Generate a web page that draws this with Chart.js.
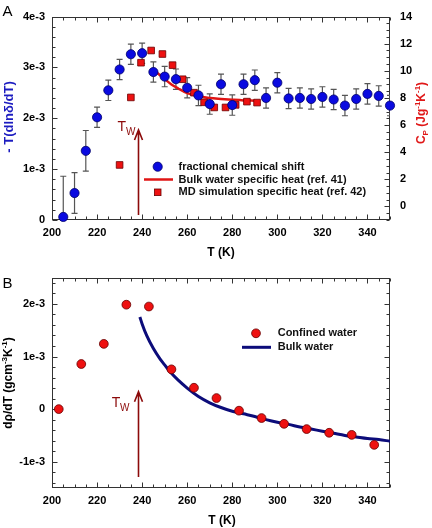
<!DOCTYPE html>
<html><head><meta charset="utf-8">
<script src="https://cdn.jsdelivr.net/npm/chart.js@4.4.1/dist/chart.umd.min.js"></script>
<style>
html,body{margin:0;padding:0;background:#fff;}
#wrap{position:relative;width:432px;height:528px;overflow:hidden;}
canvas{position:absolute;left:0;}
</style></head><body>
<div id="wrap">
<canvas id="cA" width="432" height="264" style="top:0;width:432px;height:264px"></canvas>
<canvas id="cB" width="432" height="264" style="top:264px;width:432px;height:264px"></canvas>
</div>
<script>
// ---------- Panel A data ----------
const shiftT   = [205,210,215,220,225,230,235,240,245,250,255,260,265,270,275,280,285,290,295,300,305,310,315,320,325,330,335,340,345,350];
const shiftVal = [0.06e-3,0.53e-3,1.36e-3,2.02e-3,2.55e-3,2.96e-3,3.26e-3,3.28e-3,2.91e-3,2.82e-3,2.77e-3,2.60e-3,2.45e-3,2.28e-3,2.67e-3,2.26e-3,2.67e-3,2.75e-3,2.40e-3,2.70e-3,2.39e-3,2.40e-3,2.38e-3,2.42e-3,2.37e-3,2.25e-3,2.38e-3,2.48e-3,2.44e-3,2.25e-3];
const shiftErr = [0.8e-3,0.4e-3,0.4e-3,0.2e-3,0.2e-3,0.2e-3,0.2e-3,0.2e-3,0.2e-3,0.2e-3,0.2e-3,0.2e-3,0.2e-3,0.2e-3,0.2e-3,0.2e-3,0.2e-3,0.2e-3,0.2e-3,0.2e-3,0.2e-3,0.2e-3,0.2e-3,0.2e-3,0.2e-3,0.2e-3,0.2e-3,0.2e-3,0.2e-3,0.2e-3];
const bulkCpT  = [245,247,250,253,256,260,265,270,275,280,285,290];
const bulkCp   = [10.1,9.8,9.4,9.0,8.7,8.35,8.12,8.0,7.93,7.87,7.82,7.8];
const mdT      = [230,235,239.5,244,249,253.5,258,263,267.5,272,277,281.5,286.5,291];
const mdCp     = [3.06,8.04,10.6,11.5,11.24,10.42,9.38,8.39,7.68,7.30,7.30,7.49,7.73,7.66];
// ---------- Panel B data ----------
const confT    = [203,213,223,233,243,253,263,273,283,293,303,313,323,333,343];
const confVal  = [0.0,0.857e-3,1.24e-3,1.985e-3,1.95e-3,0.756e-3,0.406e-3,0.21e-3,-0.03e-3,-0.17e-3,-0.28e-3,-0.38e-3,-0.45e-3,-0.49e-3,-0.68e-3];
const bulkRhoT = [239,240,242,245,248,250,253,256,260,265,270,275,280,285,290,295,300,305,310,315,320,325,330,335,340,345,350];
const bulkRho  = [1.75e-3,1.62e-3,1.40e-3,1.15e-3,0.95e-3,0.84e-3,0.68e-3,0.55e-3,0.40e-3,0.24e-3,0.12e-3,0.03e-3,-0.04e-3,-0.09e-3,-0.14e-3,-0.20e-3,-0.25e-3,-0.29e-3,-0.34e-3,-0.38e-3,-0.42e-3,-0.46e-3,-0.50e-3,-0.53e-3,-0.56e-3,-0.58e-3,-0.61e-3];
// ---------- ticks / labels ----------
const xTicks   = [200,220,240,260,280,300,320,340];
const yTicksA  = [0,1e-3,2e-3,3e-3,4e-3];
const cpTicks  = [0,2,4,6,8,10,12,14];
const yTicksB  = [-1e-3,0,1e-3,2e-3];
const legendA  = ['fractional chemical shift','Bulk water specific heat (ref. 41)','MD simulation specific heat (ref. 42)'];
const legendB  = ['Confined water','Bulk water'];
const twT = 238;

const FONT = '"Liberation Sans", Arial, Helvetica, sans-serif';
Chart.defaults.font.family = FONT;

function sci(v){ if (Math.abs(v) < 1e-12) return '0'; return Math.round(v*1000) + 'e-3'; }
function setTicks(arr){ return s => { s.ticks = arr.map(v => ({value:v})); }; }

function eachTick(min, max, minor, major, fn){
  const k0 = Math.ceil(min/minor - 1e-6), k1 = Math.floor(max/minor + 1e-6);
  for (let k = k0; k <= k1; k++){ const v = k*minor; const r = v/major; fn(v, Math.abs(r - Math.round(r)) < 1e-6); }
}

const errorBars = {
  id:'errorBars',
  beforeDatasetsDraw(chart){
    const {ctx, chartArea:a} = chart;
    chart.data.datasets.forEach(ds => {
      if (!ds.errors) return;
      const xs = chart.scales.x, ys = chart.scales[ds.yAxisID || 'y'];
      ctx.save();
      ctx.beginPath(); ctx.rect(a.left, a.top, a.right-a.left, a.bottom-a.top); ctx.clip();
      ctx.strokeStyle = '#555'; ctx.lineWidth = 1.2;
      ds.data.forEach((p,i) => {
        const e = ds.errors[i];
        const x = xs.getPixelForValue(p.x);
        const y1 = ys.getPixelForValue(p.y + e), y2 = ys.getPixelForValue(p.y - e);
        ctx.beginPath();
        ctx.moveTo(x, y1); ctx.lineTo(x, y2);
        ctx.moveTo(x-3, y1); ctx.lineTo(x+3, y1);
        ctx.moveTo(x-3, y2); ctx.lineTo(x+3, y2);
        ctx.stroke();
      });
      ctx.restore();
    });
  }
};

const frameTicks = {
  id:'frameTicks',
  beforeDatasetsDraw(chart, args, o){
    const {ctx, chartArea:a, scales} = chart;
    const L = Math.round(a.left)+0.5, R = Math.round(a.right)-0.5, T = Math.round(a.top)+0.5, B = Math.round(a.bottom)-0.5;
    ctx.save();
    ctx.strokeStyle = '#333'; ctx.lineWidth = 1;
    ctx.strokeRect(L, T, R-L, B-T);
    ctx.beginPath();
    const xs = scales.x;
    eachTick(xs.min, xs.max, o.x.minor, o.x.major, (v, major) => {
      const px = Math.round(xs.getPixelForValue(v)) + 0.5, len = major ? 5 : 3;
      ctx.moveTo(px, B); ctx.lineTo(px, B-len);
      ctx.moveTo(px, T); ctx.lineTo(px, T+len);
    });
    const ls = scales[o.left.id];
    eachTick(ls.min, ls.max, o.left.minor, o.left.major, (v, major) => {
      const py = Math.round(ls.getPixelForValue(v)) + 0.5, len = major ? 5 : 3;
      ctx.moveTo(L, py); ctx.lineTo(L+len, py);
      if (!o.right){ ctx.moveTo(R, py); ctx.lineTo(R-len, py); }
    });
    if (o.right){
      const rs = scales[o.right.id];
      eachTick(rs.min, rs.max, o.right.minor, o.right.major, (v, major) => {
        const py = Math.round(rs.getPixelForValue(v)) + 0.5, len = major ? 5 : 3;
        ctx.moveTo(R, py); ctx.lineTo(R-len, py);
      });
    }
    ctx.stroke();
    ctx.restore();
  }
};

function drawRich(ctx, parts, cx, cy, rot, color){
  ctx.save(); ctx.translate(cx, cy); ctx.rotate(rot);
  ctx.fillStyle = color; ctx.textBaseline = 'alphabetic'; ctx.textAlign = 'left';
  let w = 0;
  parts.forEach(p => { ctx.font = 'bold ' + p.sz + 'px ' + FONT; p.w = ctx.measureText(p.t).width; w += p.w; });
  let x = -w/2;
  const base = parts[0].sz * 0.36;
  parts.forEach(p => { ctx.font = 'bold ' + p.sz + 'px ' + FONT; ctx.fillText(p.t, x, base + (p.dy || 0)); x += p.w; });
  ctx.restore();
}

function drawArrowTw(ctx, xs, yBottom, yTip, tPos, wPos){
  const x = Math.round(xs.getPixelForValue(twT)) + 0.5;
  ctx.save();
  ctx.strokeStyle = '#8c0a0a'; ctx.lineWidth = 1.6;
  ctx.beginPath();
  ctx.moveTo(x, yBottom); ctx.lineTo(x, yTip);
  ctx.moveTo(x-4, yTip+10); ctx.lineTo(x, yTip); ctx.lineTo(x+4, yTip+10);
  ctx.stroke();
  ctx.fillStyle = '#8c0a0a'; ctx.textBaseline = 'alphabetic'; ctx.textAlign = 'left';
  ctx.font = '14px ' + FONT; ctx.fillText('T', tPos[0], tPos[1]);
  ctx.font = '10px ' + FONT; ctx.fillText('W', wPos[0], wPos[1]);
  ctx.restore();
}

const annotA = {
  id:'annotA',
  afterDraw(chart){
    const {ctx, scales} = chart;
    drawArrowTw(ctx, scales.x, 215, 130, [117.5,130.7], [126,135]);
    // legend
    ctx.save();
    ctx.font = 'bold 11px ' + FONT; ctx.fillStyle = '#111'; ctx.textBaseline = 'middle'; ctx.textAlign = 'left';
    const ly = [166.7, 179.5, 192.3];
    legendA.forEach((t,i) => ctx.fillText(t, 178.5, ly[i]));
    ctx.beginPath(); ctx.arc(157.7, ly[0], 4.6, 0, Math.PI*2);
    ctx.fillStyle = '#0a0ae0'; ctx.fill(); ctx.strokeStyle = '#00006a'; ctx.lineWidth = 0.8; ctx.stroke();
    ctx.beginPath(); ctx.moveTo(144, ly[1]); ctx.lineTo(173, ly[1]);
    ctx.strokeStyle = '#e01515'; ctx.lineWidth = 2.5; ctx.stroke();
    ctx.fillStyle = '#ee1111'; ctx.fillRect(154.4, ly[2]-3.3, 6.6, 6.6);
    ctx.strokeStyle = '#6a0000'; ctx.lineWidth = 0.8; ctx.strokeRect(154.4, ly[2]-3.3, 6.6, 6.6);
    // panel letter
    ctx.fillStyle = '#000'; ctx.textBaseline = 'alphabetic'; ctx.font = '15px ' + FONT;
    ctx.fillText('A', 2.5, 15.5);
    // x title
    ctx.font = 'bold 12px ' + FONT; ctx.textAlign = 'center'; ctx.textBaseline = 'middle';
    ctx.fillText('T (K)', 221, 253);
    ctx.restore();
    drawRich(ctx, [{t:'- T(dln\u03b4/dT)', sz:13}], 8, 117, -Math.PI/2, '#1c1cc0');
    drawRich(ctx, [{t:'C', sz:12},{t:'P', sz:8, dy:3},{t:' (Jg', sz:12},{t:'-1', sz:8, dy:-5},{t:'K', sz:12},{t:'-1', sz:8, dy:-5},{t:')', sz:12}], 421, 113, -Math.PI/2, '#e01818');
  }
};

const annotB = {
  id:'annotB',
  afterDraw(chart){
    const {ctx, scales} = chart;
    drawArrowTw(ctx, scales.x, 213, 127.7, [111.7,142.7], [120,146.7]);
    ctx.save();
    ctx.font = 'bold 11px ' + FONT; ctx.fillStyle = '#111'; ctx.textBaseline = 'middle'; ctx.textAlign = 'left';
    const ly = [69.3, 83.3];
    legendB.forEach((t,i) => ctx.fillText(t, 277.7, ly[i]));
    ctx.beginPath(); ctx.arc(256, ly[0], 4.4, 0, Math.PI*2);
    ctx.fillStyle = '#ee1111'; ctx.fill(); ctx.strokeStyle = '#600'; ctx.lineWidth = 0.8; ctx.stroke();
    ctx.beginPath(); ctx.moveTo(242, ly[1]); ctx.lineTo(271, ly[1]);
    ctx.strokeStyle = '#0c0c7a'; ctx.lineWidth = 3; ctx.stroke();
    ctx.fillStyle = '#000'; ctx.textBaseline = 'alphabetic'; ctx.font = '15px ' + FONT;
    ctx.fillText('B', 2.5, 24);
    ctx.font = 'bold 12px ' + FONT; ctx.textAlign = 'center'; ctx.textBaseline = 'middle';
    ctx.fillText('T (K)', 222, 257);
    ctx.restore();
    drawRich(ctx, [{t:'d\u03c1/dT (gcm', sz:12},{t:'-3', sz:8, dy:-5},{t:'K', sz:12},{t:'-1', sz:8, dy:-5},{t:')', sz:12}], 8, 119, -Math.PI/2, '#000');
  }
};

const tickFont = {size:11, weight:'bold', family:FONT};
function xScale(h){
  return {type:'linear', min:200, max:350, afterBuildTicks:setTicks(xTicks), afterFit:s=>{s.height=h;},
    grid:{display:false, drawTicks:false, tickLength:0}, border:{display:false},
    ticks:{padding:6, font:tickFont, color:'#000', maxRotation:0, autoSkip:false}};
}

new Chart(document.getElementById('cA'), {
  type:'scatter',
  data:{datasets:[
    {label:legendA[0], data:shiftT.map((t,i)=>({x:t,y:shiftVal[i]})), errors:shiftErr, yAxisID:'y',
     pointStyle:'circle', pointRadius:4.6, backgroundColor:'#0a0ae0', borderColor:'#00006a', borderWidth:0.8, clip:false, order:0},
    {label:legendA[2], data:mdT.map((t,i)=>({x:t,y:mdCp[i]})), yAxisID:'y1',
     pointStyle:'rect', pointRadius:4.7, backgroundColor:'#ee1111', borderColor:'#6a0000', borderWidth:0.8, clip:false, order:1},
    {label:legendA[1], data:bulkCpT.map((t,i)=>({x:t,y:bulkCp[i]})), yAxisID:'y1', showLine:true,
     cubicInterpolationMode:'monotone', pointRadius:0, borderColor:'#e01515', borderWidth:2.5, fill:false, order:2}
  ]},
  options:{
    responsive:false, animation:false, devicePixelRatio:1,
    layout:{padding:{top:8, left:0, right:0, bottom:0}},
    plugins:{legend:{display:false}, tooltip:{enabled:false},
      frameTicks:{x:{minor:5, major:20}, left:{id:'y', minor:0.2e-3, major:1e-3}, right:{id:'y1', minor:0.5, major:2}}},
    scales:{
      x:xScale(44),
      y:{position:'left', min:0, max:4e-3, afterBuildTicks:setTicks(yTicksA), afterFit:s=>{s.width=52;},
         grid:{display:false, drawTicks:false, tickLength:0}, border:{display:false},
         ticks:{padding:7, font:tickFont, color:'#000', callback:sci}},
      y1:{position:'right', min:-1, max:14, afterBuildTicks:setTicks(cpTicks), afterFit:s=>{s.width=42;},
         grid:{display:false, drawTicks:false, tickLength:0}, border:{display:false},
         ticks:{padding:10, font:tickFont, color:'#000'}}
    }
  },
  plugins:[frameTicks, errorBars, annotA]
});

new Chart(document.getElementById('cB'), {
  type:'scatter',
  data:{datasets:[
    {label:legendB[0], data:confT.map((t,i)=>({x:t,y:confVal[i]})), yAxisID:'y',
     pointStyle:'circle', pointRadius:4.4, backgroundColor:'#ee1111', borderColor:'#600', borderWidth:0.8, clip:false, order:0},
    {label:legendB[1], data:bulkRhoT.map((t,i)=>({x:t,y:bulkRho[i]})), yAxisID:'y', showLine:true,
     cubicInterpolationMode:'monotone', pointRadius:0, borderColor:'#0c0c7a', borderWidth:3, fill:false, order:1}
  ]},
  options:{
    responsive:false, animation:false, devicePixelRatio:1,
    layout:{padding:{top:11, left:0, right:42, bottom:0}},
    plugins:{legend:{display:false}, tooltip:{enabled:false},
      frameTicks:{x:{minor:5, major:20}, left:{id:'y', minor:0.2e-3, major:1e-3}}},
    scales:{
      x:xScale(40),
      y:{position:'left', min:-1.5e-3, max:2.5e-3, afterBuildTicks:setTicks(yTicksB), afterFit:s=>{s.width=52;},
         grid:{display:false, drawTicks:false, tickLength:0}, border:{display:false},
         ticks:{padding:7, font:tickFont, color:'#000', callback:sci}}
    }
  },
  plugins:[frameTicks, annotB]
});
</script>
</body></html>
